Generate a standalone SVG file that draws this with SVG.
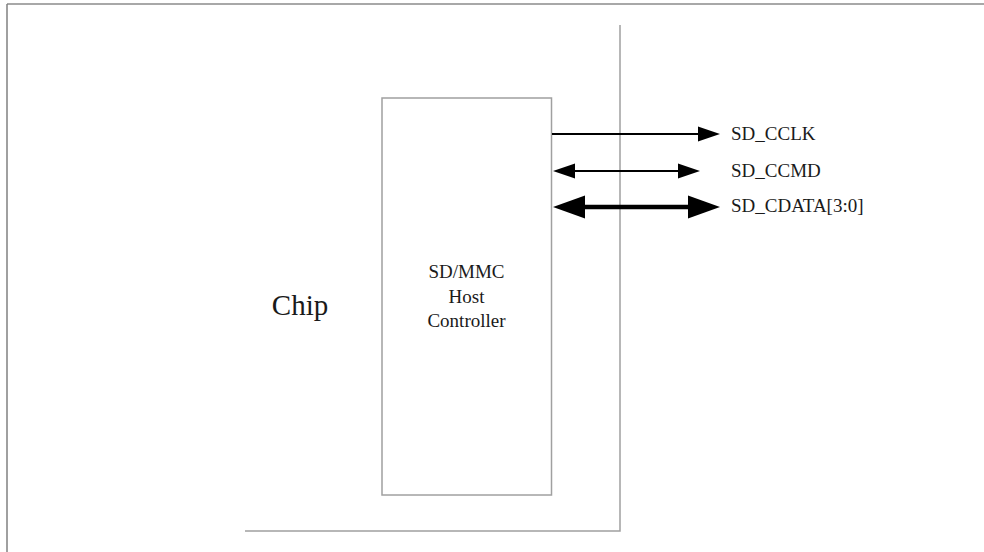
<svg xmlns="http://www.w3.org/2000/svg" width="984" height="552" viewBox="0 0 984 552">
<defs>
<style>
.t{font-family:"Liberation Serif","Times New Roman",serif;fill:#1a1a1a}
.g{stroke:#a0a0a0;stroke-width:1.5;fill:none}
.a{stroke:#000;fill:none}
</style>
</defs>
<rect width="984" height="552" fill="#fff"/>
<g id="frame">
<line x1="7" y1="4" x2="984" y2="4" stroke="#a8a8a8" stroke-width="2"/>
<line x1="7" y1="4" x2="7" y2="552" stroke="#808080" stroke-width="1.5"/>
</g>
<g id="chip">
<polyline class="g" points="620,25 620,531 245,531"/>
<text class="t" x="300" y="315" font-size="29" text-anchor="middle">Chip</text>
</g>
<g id="controller">
<rect class="g" x="382" y="98" width="169.5" height="397"/>
<text class="t" font-size="19" text-anchor="middle"><tspan x="466.5" y="278">SD/MMC</tspan><tspan x="466.5" y="303">Host</tspan><tspan x="466.5" y="327">Controller</tspan></text>
</g>
<g id="connectors">
<line class="a" x1="552" y1="134" x2="700" y2="134" stroke-width="2"/>
<polygon points="698,126.5 720,134 698,141.5"/>
<line class="a" x1="573" y1="171" x2="680" y2="171" stroke-width="1.8"/>
<polygon points="575,163.5 553,171 575,178.5"/>
<polygon points="678,163.5 700,171 678,178.5"/>
<line class="a" x1="583" y1="207" x2="690" y2="207" stroke-width="4.5"/>
<polygon points="585,195.5 553,207 585,218.5"/>
<polygon points="688,195.5 720,207 688,218.5"/>
</g>
<g id="labels">
<text class="t" x="731" y="140" font-size="19">SD_CCLK</text>
<text class="t" x="731" y="177" font-size="19">SD_CCMD</text>
<text class="t" x="731" y="212" font-size="19">SD_CDATA[3:0]</text>
</g>
</svg>
